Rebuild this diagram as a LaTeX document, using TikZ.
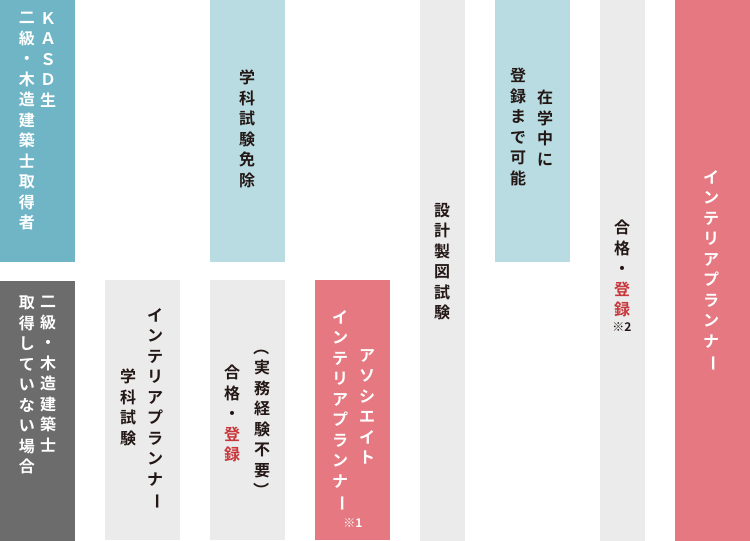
\documentclass[tikz,border=0pt]{standalone}
\usepackage{fontspec}
\usepackage{graphicx}
\newfontfamily\jp{Noto Sans CJK JP Bold}
\usetikzlibrary{arrows.meta}
\definecolor{teal}{HTML}{6FB5C5}
\definecolor{lblue}{HTML}{B9DCE2}
\definecolor{lgray}{HTML}{EBEBEB}
\definecolor{dgray}{HTML}{6C6C6C}
\definecolor{pink}{HTML}{E57880}
\definecolor{redt}{HTML}{C8373C}
\definecolor{txt}{HTML}{231815}
\newcommand{\VB}{\rotatebox[origin=c]{-90}{ー}}
\newcommand{\VLP}{\rotatebox[origin=c]{-90}{（}}
\newcommand{\VRP}{\rotatebox[origin=c]{-90}{）}}
\tikzset{
 box/.style={draw=none,inner sep=0,anchor=north west},
 col/.style={inner sep=0,anchor=north,align=center,font=\jp\fontsize{16}{20.5}\selectfont,text=txt},
 wcol/.style={col,text=white},
 flow/.style={line width=2.2pt,-{Triangle[length=9pt,width=9pt]}}
}
\begin{document}
\begin{tikzpicture}[x=1pt,y=-1pt]
\useasboundingbox (0,0) rectangle (750,541);
% boxes
\path[fill=teal] (0,0) rectangle (75,262);
\path[fill=lblue] (210,0) rectangle (285,262);
\path[fill=lgray] (420,0) rectangle (465,541);
\path[fill=lblue] (495,0) rectangle (570,262);
\path[fill=lgray] (600,0) rectangle (645,541);
\path[fill=pink] (675,0) rectangle (750,541);
\path[fill=dgray] (0,281) rectangle (75,541);
\path[fill=lgray] (105,280) rectangle (180,540);
\path[fill=lgray] (210,280) rectangle (285,540);
\path[fill=pink] (315,280) rectangle (390,540);
\coordinate (ta) at (75,100);
\coordinate (tb) at (675,100);
\coordinate (ga) at (75,313);
\coordinate (gb) at (675,313);
\begin{scope}[on background layer/.style={}]
\end{scope}
% text
\node[wcol] (k1) at (48,12) {Ｋ\\Ａ\\Ｓ\\Ｄ\\生};
\node[wcol] (k2) at (27,12) {二\\級\\・\\木\\造\\建\\築\\士\\取\\得\\者};
\node[col] (m1) at (247,70) {学\\科\\試\\験\\免\\除};
\node[col] (s1) at (442,203) {設\\計\\製\\図\\試\\験};
\node[col] (z1) at (545,90) {在\\学\\中\\に};
\node[col] (z2) at (518,68) {登\\録\\ま\\で\\可\\能};
\node[col] (g1) at (622,220) {合\\格\\・\\\textcolor{redt}{登}\\\textcolor{redt}{録}};
\node[col,font=\jp\fontsize{12}{14}\selectfont] (n2) at (622,322) {※2};
\node[wcol] (ip) at (711,170) {イ\\ン\\テ\\リ\\ア\\プ\\ラ\\ン\\ナ\\\VB};
\node[wcol] (d1) at (48,296) {二\\級\\・\\木\\造\\建\\築\\士};
\node[wcol] (d2) at (27,296) {取\\得\\し\\て\\い\\な\\い\\場\\合};
\node[col] (a1) at (155,308) {イ\\ン\\テ\\リ\\ア\\プ\\ラ\\ン\\ナ\\\VB};
\node[col] (a2) at (128,369) {学\\科\\試\\験};
\node[col] (b1) at (262,339) {\VLP\\実\\務\\経\\験\\不\\要\\\VRP};
\node[col] (b2) at (232,365) {合\\格\\・\\\textcolor{redt}{登}\\\textcolor{redt}{録}};
\node[wcol] (c1) at (367,349) {ア\\ソ\\シ\\エ\\イ\\ト};
\node[wcol] (c2) at (340,310) {イ\\ン\\テ\\リ\\ア\\プ\\ラ\\ン\\ナ\\\VB};
\node[wcol,font=\jp\fontsize{12}{14}\selectfont] (n1) at (353,518) {※1};
\end{tikzpicture}
\end{document}
